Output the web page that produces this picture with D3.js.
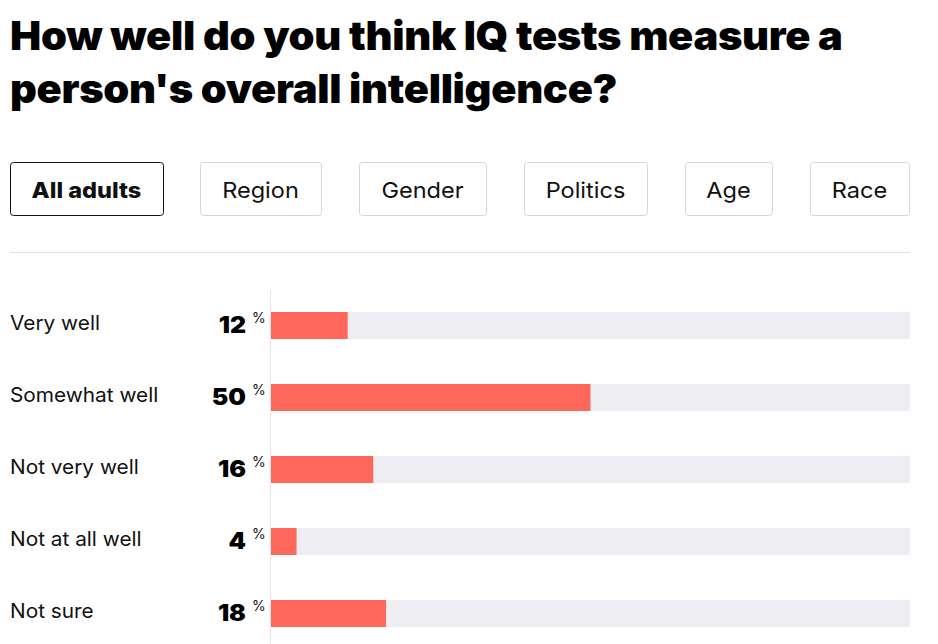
<!DOCTYPE html>
<html>
<head>
<meta charset="utf-8">
<script src="https://cdn.jsdelivr.net/npm/d3@7"></script>
<style>
  body { margin: 0; background: #fff; }
  text { font-family: Inter, "Noto Sans", sans-serif; }
</style>
</head>
<body>
<div class="chart"></div>
<script>
const titleLines = ["How well do you think IQ tests measure a", "person's overall intelligence?"];
const tabs = ["All adults", "Region", "Gender", "Politics", "Age", "Race"];
const tabX = [10, 200, 359, 524, 685, 810];
const tabW = [153, 121, 127, 123, 87, 99];
const categories = ["Very well", "Somewhat well", "Not very well", "Not at all well", "Not sure"];
const values = [12, 50, 16, 4, 18];

const width = 938;
const height = 644;

// the original face is wider than Inter, so stretch the text a bit
function stretch(sel, f) {
  sel.each(function() {
    const w = this.getComputedTextLength();
    d3.select(this)
      .attr("textLength", w * f)
      .attr("lengthAdjust", "spacingAndGlyphs");
  });
}

const svg = d3.select(".chart")
  .append("svg")
  .attr("width", width)
  .attr("height", height);

// title
svg.selectAll(".title")
  .data(titleLines)
  .enter()
  .append("text")
  .attr("class", "title")
  .attr("x", 10)
  .attr("y", (d, i) => 50 + i * 53)
  .attr("font-size", "40px")
  .attr("font-weight", 900)
  .attr("letter-spacing", "-0.3px")
  .attr("fill", "#000")
  .text(d => d)
  .call(stretch, 1.04);

// tab buttons
const tab = svg.selectAll(".tab")
  .data(tabs)
  .enter()
  .append("g")
  .attr("class", "tab");

tab.append("rect")
  .attr("x", (d, i) => tabX[i] + 0.5)
  .attr("y", 162.5)
  .attr("width", (d, i) => tabW[i])
  .attr("height", 53)
  .attr("rx", 3)
  .attr("fill", "#fff")
  .attr("stroke", (d, i) => i == 0 ? "#111" : "#d3d6df")
  .attr("stroke-width", 1);

tab.append("text")
  .attr("x", (d, i) => tabX[i] + tabW[i] / 2)
  .attr("y", 198)
  .attr("text-anchor", "middle")
  .attr("font-size", "22px")
  .attr("font-weight", (d, i) => i == 0 ? 800 : 400)
  .attr("fill", "#111")
  .text(d => d)
  .call(stretch, 1.07);

svg.append("line")
  .attr("x1", 10).attr("x2", 910)
  .attr("y1", 252.5).attr("y2", 252.5)
  .attr("stroke", "#e2e3e8");

// scales
const x = d3.scaleLinear().domain([0, 100]).range([271, 910]);
const y = d3.scaleBand().domain(categories).range([289.5, 649.5]);
const barH = 27;

svg.append("line")
  .attr("x1", 270.5).attr("x2", 270.5)
  .attr("y1", 290).attr("y2", height)
  .attr("stroke", "#e2e3e8");

const rows = svg.selectAll(".row")
  .data(categories)
  .enter()
  .append("g")
  .attr("class", "row");

rows.append("rect")
  .attr("x", x(0))
  .attr("y", d => y(d) + y.bandwidth() / 2 - barH / 2)
  .attr("width", x(100) - x(0))
  .attr("height", barH)
  .attr("fill", "#eeeef2");

rows.append("rect")
  .attr("x", x(0))
  .attr("y", d => y(d) + y.bandwidth() / 2 - barH / 2)
  .attr("width", (d, i) => x(values[i]) - x(0))
  .attr("height", barH)
  .attr("fill", "#ff675a");

rows.append("text")
  .attr("x", 10)
  .attr("y", d => y(d) + y.bandwidth() / 2 + 4)
  .attr("font-size", "20px")
  .attr("fill", "#111")
  .text(d => d)
  .call(stretch, 1.04);

rows.append("text")
  .attr("x", 246)
  .attr("y", d => y(d) + y.bandwidth() / 2 + 7.5)
  .attr("text-anchor", "end")
  .attr("font-size", "23px")
  .attr("font-weight", 900)
  .attr("fill", "#000")
  .text((d, i) => values[i])
  .call(stretch, 1.08);

rows.append("text")
  .attr("x", 252)
  .attr("y", d => y(d) + y.bandwidth() / 2 - 2.5)
  .attr("font-size", "14px")
  .attr("fill", "#111")
  .text("%");
</script>
</body>
</html>
